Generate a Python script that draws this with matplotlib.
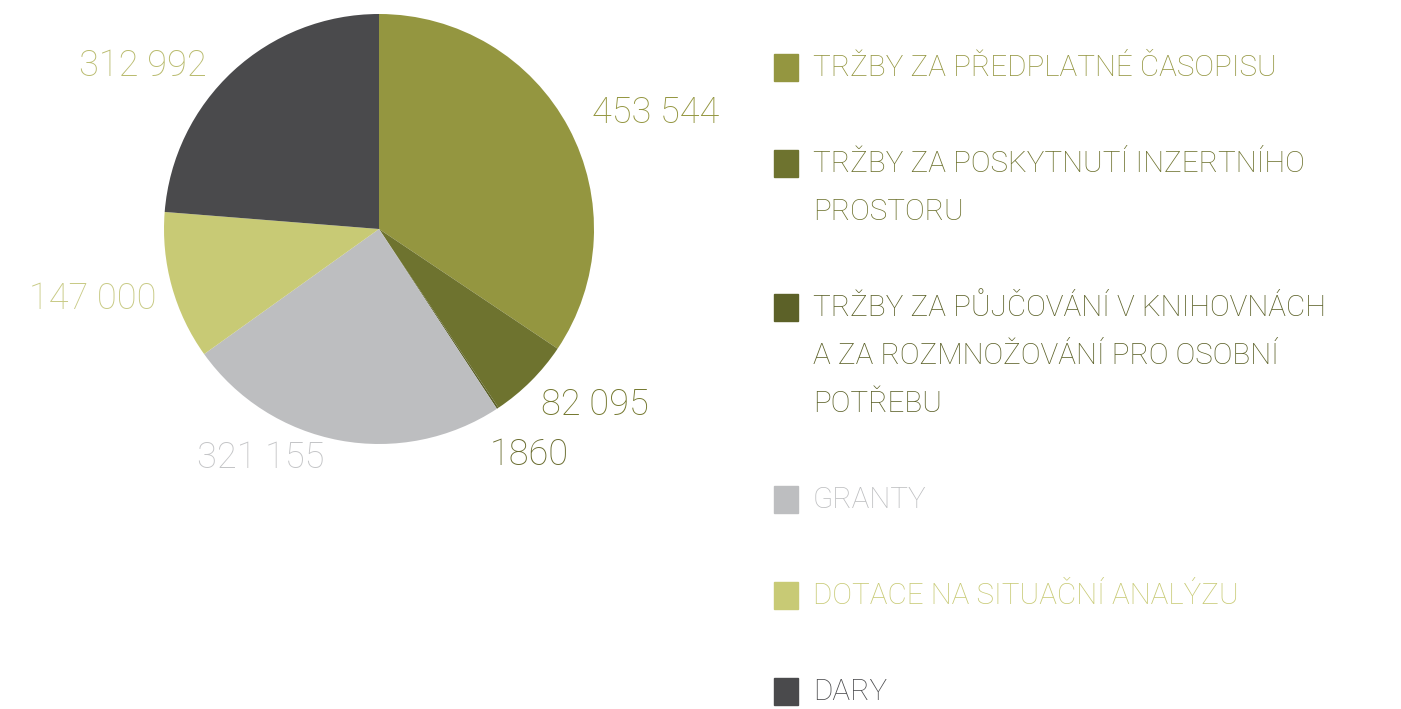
import matplotlib
matplotlib.use("Agg")
import matplotlib.pyplot as plt
from matplotlib.patches import Rectangle

# Data
categories = ["TRŽBY ZA PŘEDPLATNÉ ČASOPISU",
              "TRŽBY ZA POSKYTNUTÍ INZERTNÍHO\nPROSTORU",
              "TRŽBY ZA PŮJČOVÁNÍ V KNIHOVNÁCH\nA ZA ROZMNOŽOVÁNÍ PRO OSOBNÍ\nPOTŘEBU",
              "GRANTY",
              "DOTACE NA SITUAČNÍ ANALÝZU",
              "DARY"]
values = [453544, 82095, 1860, 321155, 147000, 312992]
value_labels = ["453 544", "82 095", "1860", "321 155", "147 000", "312 992"]

colors = ["#949640", "#6e732f", "#5c6128", "#bdbec0", "#c8ca75", "#4a4a4c"]
label_colors = ["#949640", "#74782f", "#6a6d30", "#c4c5c7", "#c8ca85", "#b9bb6e"]
# label positions in pie radius units (hand placed like the original)
label_xy = [(1.288, 0.540), (1.005, -0.819), (0.698, -1.051),
            (-0.549, -1.065), (-1.330, -0.326), (-1.098, 0.758)]

plt.rcParams['font.family'] = ['Roboto', 'DejaVu Sans']

W, H = 1401, 709
fig = plt.figure(figsize=(W / 100, H / 100), dpi=100)

# pie axes: centre (379, 229), radius 215 px
cx, cy, r = 379, 229, 215
ax = fig.add_axes([(cx - r) / W, (H - cy - r) / H, 2 * r / W, 2 * r / H])
ax.pie(values, colors=colors, startangle=90, counterclock=False,
       wedgeprops=dict(linewidth=0))
ax.set_xlim(-1, 1)
ax.set_ylim(-1, 1)
ax.set_aspect("equal")
ax.axis("off")

for (x, y), txt, c in zip(label_xy, value_labels, label_colors):
    ax.text(x, y, txt, color=c, fontsize=26, fontweight="light",
            ha="center", va="center")

# legend drawn by hand
line_h = 48
y = 68
for cat, c in zip(categories, colors):
    n = cat.count("\n") + 1
    fig.patches.append(Rectangle((774 / W, (H - y - 13) / H), 24 / W, 27 / H,
                                 transform=fig.transFigure, color=c))
    for i, line in enumerate(cat.split("\n")):
        fig.text(813 / W, (H - y - i * line_h) / H, line, color=c,
                 fontsize=21.3, fontweight="light", va="center", ha="left")
    y += (n + 1) * line_h

fig.savefig("out.png", dpi=100)
